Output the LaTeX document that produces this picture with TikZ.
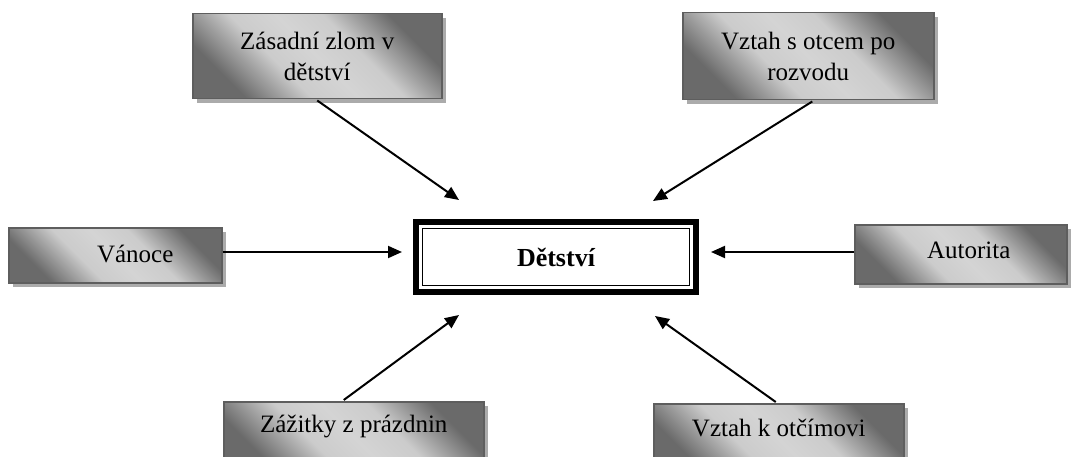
\documentclass[tikz,border=0pt]{standalone}
\usepackage{fontspec}
\setmainfont{Liberation Serif}
\usetikzlibrary{arrows.meta,shadows}
\definecolor{sdark}{HTML}{6A6A6A}
\definecolor{slight}{HTML}{D4D4D4}
\definecolor{bordergray}{HTML}{5E5E5E}
\definecolor{shadowgray}{HTML}{ABABAB}
\pgfdeclarehorizontalshading{boxshade}{100bp}{color(0bp)=(sdark); color(26bp)=(sdark); color(40bp)=(slight!92!sdark); color(50bp)=(slight); color(60bp)=(slight!92!sdark); color(74bp)=(sdark); color(100bp)=(sdark)}
\newcommand{\bigfont}{\fontsize{25}{31}\selectfont}
\tikzset{
  graybox/.style={draw=bordergray, line width=1.5pt, shading=boxshade, shading angle=45,
    general shadow={fill=shadowgray, shadow xshift=4pt, shadow yshift=-4pt},
    inner sep=0pt, anchor=north west, align=center, font=\bigfont},
  conn/.style={line width=2pt, -{Triangle[length=14pt,width=12pt]}},
}
\begin{document}
\begin{tikzpicture}[x=1pt,y=-1pt]
\useasboundingbox (0,0) rectangle (1073,457);
% side boxes
\node[graybox, minimum width=249pt, minimum height=85pt] (A) at (192,13) {Zásadní zlom v\\dětství};
\node[graybox, minimum width=251pt, minimum height=87pt] (B) at (682,12) {Vztah s otcem po\\rozvodu};
\node[graybox, minimum width=213pt, minimum height=55pt,
  label={[font=\bigfont, xshift=20pt, yshift=1pt]center:Vánoce}] (C) at (8,227) {};
\node[graybox, minimum width=212pt, minimum height=59pt,
  label={[font=\bigfont, xshift=8pt, yshift=4pt]center:Autorita}] (D) at (854,224) {};
\node[graybox, minimum width=260pt, minimum height=70pt,
  label={[font=\bigfont, yshift=10pt]center:Zážitky z prázdnin}] (E) at (223,401) {};
\node[graybox, minimum width=250pt, minimum height=70pt,
  label={[font=\bigfont, yshift=11pt]center:Vztah k otčímovi}] (F) at (653,403) {};
% central box
\node[draw=black, line width=6pt, minimum width=280pt, minimum height=70pt, inner sep=0pt,
  outer sep=0pt, anchor=north west] (M) at (416,222) {};
\draw[line width=1pt] ([shift={(6.5pt,-6.5pt)}]M.north west) rectangle ([shift={(-6.5pt,6.5pt)}]M.south east);
\node[font=\fontsize{26}{30}\selectfont\bfseries] (Mt) at (M.center) {Dětství};
% arrow tips
\coordinate (tA) at (459,200);
\coordinate (tB) at (653,201);
\coordinate (tC) at (402,252);
\coordinate (tD) at (711,252);
\coordinate (tE) at (459,315);
\coordinate (tF) at (655,316);
\draw[conn] ([yshift=-1pt]A.south) -- (tA);
\draw[conn] ([xshift=4pt,yshift=-1pt]B.south) -- (tB);
\draw[conn] (C.east |- tC) -- (tC);
\draw[conn] (D.west |- tD) -- (tD);
\draw[conn] ([xshift=-10pt,yshift=1pt]E.north) -- (tE);
\draw[conn] ([xshift=-3pt,yshift=1pt]F.north) -- (tF);
\end{tikzpicture}
\end{document}
